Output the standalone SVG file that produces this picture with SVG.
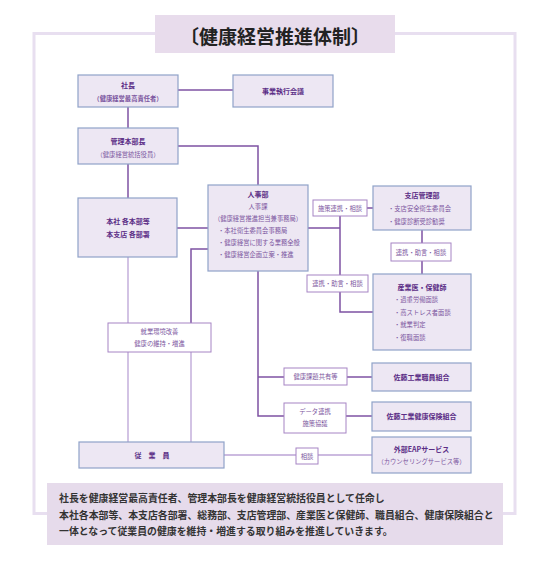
<svg xmlns="http://www.w3.org/2000/svg" width="550" height="561" viewBox="0 0 550 561">
<style>
text{font-family:"Noto Sans CJK JP","Noto Sans",sans-serif;dominant-baseline:central;text-anchor:middle}
.node{fill:#ede7f3;stroke:#8fa2c9;stroke-width:1.2}
.lbl{fill:#ffffff;stroke:#a684c4;stroke-width:1}
.h{font-size:7px;font-weight:bold;fill:#5b2d86}
.t{font-size:6.3px;fill:#7c56a0}
.l{text-anchor:start}
.c{fill:none;stroke:#7e52a3;stroke-width:1.5}
.cl{fill:none;stroke:#bba3d6;stroke-width:1.3}
.note{font-size:9.9px;font-weight:bold;fill:#333;text-anchor:start}
</style>
<rect x="0" y="0" width="550" height="561" fill="#ffffff"/>
<rect x="34" y="33.5" width="481" height="480" fill="none" stroke="#e8dff0" stroke-width="3"/>
<g id="title">
<rect x="155" y="15" width="240" height="38" fill="#e8dcec"/>
<text x="275" y="35" style="font-size:19px;font-weight:bold;fill:#222">〔健康経営推進体制〕</text>
</g>
<g id="connectors">
<path class="c" d="M178 90H233"/>
<path class="c" d="M128 107V128"/>
<path class="c" d="M128 164V198"/>
<path class="c" d="M178 146H258V185"/>
<path class="c" d="M177 228H208"/>
<path class="c" d="M208 249H191V323"/>
<path class="cl" d="M128 257V323"/>
<path class="cl" d="M128 352V442"/>
<path class="cl" d="M191 352V442"/>
<path class="c" d="M258 271V416H284"/>
<path class="c" d="M258 377H284"/>
<path class="c" d="M347 377H372"/>
<path class="c" d="M346 416H372"/>
<path class="c" d="M308 228H340"/>
<path class="c" d="M340 216V275"/>
<path class="c" d="M340 292V312H373"/>
<path class="c" d="M367 208H373"/>
<path class="c" d="M422 230V243"/>
<path class="c" d="M422 261V274"/>
<path class="cl" d="M224 455H296"/>
<path class="cl" d="M318 455H372"/>
</g>
<g id="shacho">
<rect class="node" x="78" y="75" width="100" height="32"/>
<text class="h" x="128" y="85">社長</text>
<text class="t" x="128" y="98" style="font-weight:bold">（健康経営最高責任者）</text>
</g>
<g id="jigyo">
<rect class="node" x="233" y="75" width="100" height="32"/>
<text class="h" x="283" y="90.5">事業執行会議</text>
</g>
<g id="kanri">
<rect class="node" x="78" y="128" width="100" height="36"/>
<text class="h" x="128" y="141">管理本部長</text>
<text class="t" x="128" y="154">（健康経営統括役員）</text>
</g>
<g id="honsha">
<rect class="node" x="78" y="198" width="99" height="59"/>
<text class="h" x="128" y="221">本社 各本部等</text>
<text class="h" x="128" y="234">本支店 各部署</text>
</g>
<g id="jinji">
<rect class="node" x="208" y="185" width="100" height="86"/>
<text class="h" x="258" y="194">人事部</text>
<text class="t" x="258" y="206">人事課</text>
<text class="t" x="258" y="218">（健康経営推進担当兼事務局）</text>
<text class="t l" x="218" y="230">・本社衛生委員会事務局</text>
<text class="t l" x="218" y="242">・健康経営に関する業務全般</text>
<text class="t l" x="218" y="254.5">・健康経営企画立案・推進</text>
</g>
<g id="shiten">
<rect class="node" x="373" y="186" width="98" height="44"/>
<text class="h" x="422" y="195">支店管理部</text>
<text class="t l" x="388" y="208">・支店安全衛生委員会</text>
<text class="t l" x="388" y="221">・健康診断受診勧奨</text>
</g>
<g id="sangyoi">
<rect class="node" x="373" y="274" width="98" height="76"/>
<text class="h" x="422" y="287">産業医・保健師</text>
<text class="t l" x="394" y="299.5">・過重労働面談</text>
<text class="t l" x="394" y="312">・高ストレス者面談</text>
<text class="t l" x="394" y="324.5">・就業判定</text>
<text class="t l" x="394" y="337">・復職面談</text>
</g>
<g id="lbl-shisaku">
<rect class="lbl" x="313" y="200" width="54" height="16"/>
<text class="t" x="340" y="208">施策連携・相談</text>
</g>
<g id="lbl-renkei1">
<rect class="lbl" x="307" y="275" width="61" height="17"/>
<text class="t" x="337.5" y="283.5">連携・助言・相談</text>
</g>
<g id="lbl-renkei2">
<rect class="lbl" x="391" y="243" width="60" height="18"/>
<text class="t" x="421" y="252">連携・助言・相談</text>
</g>
<g id="shugyo">
<rect class="lbl" x="108" y="323" width="103" height="29"/>
<text class="t" x="159.5" y="331">就業環境改善</text>
<text class="t" x="159.5" y="343">健康の維持・増進</text>
</g>
<g id="lbl-kadai">
<rect class="lbl" x="284" y="368" width="63" height="17"/>
<text class="t" x="315.5" y="376.5">健康課題共有等</text>
</g>
<g id="kumiai">
<rect class="node" x="372" y="363" width="99" height="28"/>
<text class="h" x="421.5" y="377">佐藤工業職員組合</text>
</g>
<g id="lbl-data">
<rect class="lbl" x="284" y="403" width="62" height="30"/>
<text class="t" x="315" y="411.5">データ連携</text>
<text class="t" x="315" y="423.5">施策協議</text>
</g>
<g id="kenpo">
<rect class="node" x="372" y="402" width="99" height="29"/>
<text class="h" x="421.5" y="416">佐藤工業健康保険組合</text>
</g>
<g id="jugyoin">
<rect class="node" x="79" y="442" width="145" height="26"/>
<text class="h" x="152" y="455">従　業　員</text>
</g>
<g id="lbl-sodan">
<rect class="lbl" x="296" y="448" width="22" height="16"/>
<text class="t" x="307" y="456">相談</text>
</g>
<g id="eap">
<rect class="node" x="372" y="437" width="99" height="36"/>
<text class="h" x="421.5" y="448.5">外部EAPサービス</text>
<text class="t" x="421.5" y="461.5">（カウンセリングサービス等）</text>
</g>
<g id="note">
<rect x="47" y="483" width="456" height="62" fill="#e6dbeb"/>
<text class="note" x="59" y="498">社長を健康経営最高責任者、管理本部長を健康経営統括役員として任命し</text>
<text class="note" x="59" y="514.5">本社各本部等、本支店各部署、総務部、支店管理部、産業医と保健師、職員組合、健康保険組合と</text>
<text class="note" x="59" y="531">一体となって従業員の健康を維持・増進する取り組みを推進していきます。</text>
</g>
</svg>
